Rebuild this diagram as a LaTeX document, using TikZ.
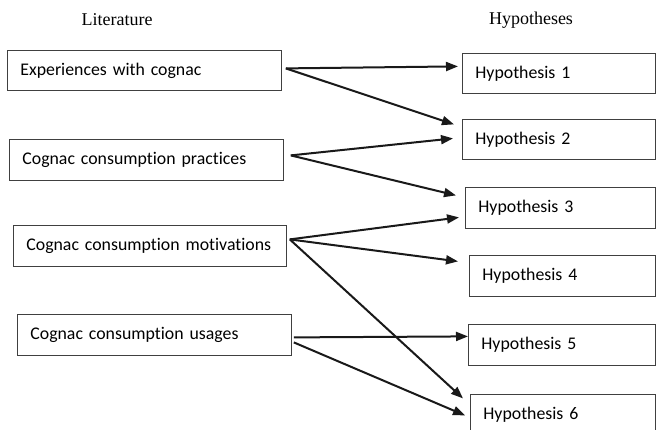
\documentclass[tikz,border=0pt]{standalone}
\usepackage{fontspec}
\setmainfont{Liberation Serif}
\newfontfamily\boxfont[Ligatures={NoCommon}]{Carlito}
\usetikzlibrary{arrows.meta}
\tikzset{
  bx/.style={draw=black!75, line width=0.8pt, rectangle, anchor=north west,
    inner xsep=13pt, inner ysep=0pt, align=left, font=\boxfont\fontsize{17.8pt}{21pt}\selectfont},
  hdr/.style={font=\fontsize{18pt}{21pt}\selectfont, inner sep=0pt},
  arr/.style={line width=2pt, draw=black!90, -{Triangle[length=12pt,width=9pt]}}
}
\begin{document}
\begin{tikzpicture}[x=1pt,y=-1pt]
\useasboundingbox (0,0) rectangle (656,430);
\node[hdr] (lit) at (117,20) {Literature};
\node[hdr] (hyp) at (531,20) {Hypotheses};
% left boxes
\node[bx, text width=248pt, minimum height=40pt] (b1) at (7,50) {\mbox{Experiences with cognac}\\[-2pt]};
\node[bx, text width=248pt, minimum height=41pt] (b2) at (9,139) {\mbox{Cognac consumption practices}\\[-2pt]};
\node[bx, text width=247pt, minimum height=41pt] (b3) at (13,225) {\mbox{Cognac consumption motivations}\\[-2pt]};
\node[bx, text width=248pt, minimum height=41pt] (b4) at (17,314) {\mbox{Cognac consumption usages}\\[-2pt]};
% right boxes
\node[bx, text width=167pt, minimum height=40pt] (h1) at (462,53) {\mbox{Hypothesis 1}\\[-2pt]};
\node[bx, text width=167pt, minimum height=40pt] (h2) at (462,119) {\mbox{Hypothesis 2}\\[-2pt]};
\node[bx, text width=164pt, minimum height=41pt] (h3) at (465,187) {\mbox{Hypothesis 3}\\[-2pt]};
\node[bx, text width=160pt, minimum height=41pt] (h4) at (469,255) {\mbox{Hypothesis 4}\\[-2pt]};
\node[bx, text width=161pt, minimum height=41pt] (h5) at (468,324) {\mbox{Hypothesis 5}\\[-2pt]};
\node[bx, text width=159pt, minimum height=41pt] (h6) at (470,394) {\mbox{Hypothesis 6}\\[-2pt]};
% arrows
\draw[arr] ([xshift=4pt,yshift=2pt]b1.east) -- ([xshift=-4pt,yshift=7pt]h1.west);
\draw[arr] ([xshift=4pt,yshift=2pt]b1.east) -- ([xshift=-8pt,yshift=15pt]h2.west);
\draw[arr] ([xshift=7pt,yshift=4.5pt]b2.east) -- ([xshift=-9pt,yshift=1pt]h2.west);
\draw[arr] ([xshift=7pt,yshift=4.5pt]b2.east) -- ([xshift=-9pt,yshift=12.5pt]h3.west);
\draw[arr] ([xshift=3pt,yshift=6.5pt]b3.east) -- ([xshift=-6pt,yshift=-9.5pt]h3.west);
\draw[arr] ([xshift=3pt,yshift=6.5pt]b3.east) -- ([xshift=-11pt,yshift=14.5pt]h4.west);
\draw[arr] ([xshift=3pt,yshift=6.5pt]b3.east) -- ([xshift=-7pt,yshift=16.5pt]h6.west);
\draw[arr] ([xshift=2pt,yshift=-2.5pt]b4.east) -- ([xshift=0pt,yshift=8.5pt]h5.west);
\draw[arr] ([xshift=2pt,yshift=-7.5pt]b4.east) -- ([xshift=-5pt,yshift=-0.5pt]h6.west);
\end{tikzpicture}
\end{document}
